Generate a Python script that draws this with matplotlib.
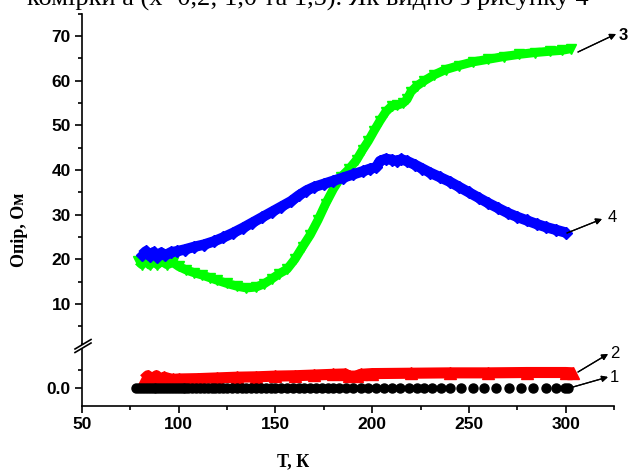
import matplotlib
matplotlib.use("Agg")
import matplotlib.pyplot as plt
from matplotlib.patches import Polygon
from matplotlib.lines import Line2D
from matplotlib.ticker import MultipleLocator, FixedLocator, FormatStrFormatter

# ---- data -------------------------------------------------------------
# sample 1: resistance ~0 over the whole range (black circles)
t1 = [78, 79.5, 81, 82.5, 84, 85.5, 87, 88.5, 90, 91.5, 93, 94.5, 96, 97.5,
      99, 100.5, 102, 103.5, 105, 107, 109, 111, 113, 115, 117, 119, 121,
      123, 125, 127.5, 130, 132.5, 135, 137.5, 140, 142.5, 145, 147.5, 150,
      153, 156, 159, 162, 165, 168, 171, 174, 177, 180, 183, 186.5, 190, 194,
      198, 202, 206, 210, 214.5, 219, 223, 227, 231, 235.5, 240, 246, 252,
      258, 264, 270.5, 277, 283, 290, 295, 299.5, 301]
r1 = [0.0] * len(t1)

# sample 2 (red triangles)
t2 = [82, 84, 86, 88.5, 90, 92.5, 95, 97, 100, 110, 120, 130, 140, 150, 160,
      170, 180, 186, 188, 192, 194, 200, 220, 240, 260, 280, 300, 304]
r2 = [0.12, 0.17, 0.12, 0.17, 0.10, 0.15, 0.13, 0.12, 0.125, 0.13, 0.14,
      0.15, 0.155, 0.165, 0.17, 0.18, 0.19, 0.195, 0.165, 0.165, 0.19, 0.20,
      0.205, 0.21, 0.21, 0.215, 0.215, 0.21]

# sample 3 (green triangles)
t3 = [79, 81, 83, 85, 87, 89, 91, 94, 97, 100, 104, 108, 112, 116, 120, 125,
      130, 135, 140, 144, 148, 152, 156, 160, 164, 168, 172, 176, 180, 184,
      188, 192, 195, 198, 201, 204, 207, 210, 213, 216, 218, 220, 223, 227,
      232, 238, 245, 252, 260, 268, 276, 284, 292, 298, 303]
r3 = [19.6, 18.8, 20.0, 18.7, 19.8, 18.8, 19.6, 18.8, 19.3, 18.4, 17.6, 17.0,
      16.5, 15.9, 15.3, 14.6, 14.0, 13.6, 13.8, 14.5, 15.6, 16.8, 17.8, 20.0,
      22.8, 25.5, 28.8, 32.5, 35.8, 38.5, 40.2, 42.3, 44.5, 46.5, 48.8, 51.0,
      53.0, 54.3, 54.5, 55.0, 55.8, 57.5, 58.8, 60.0, 61.3, 62.5, 63.4, 64.2,
      64.8, 65.4, 65.9, 66.3, 66.6, 66.8, 67.2]

# sample 4 (blue markers)
t4 = [81, 83, 85, 87, 89, 91, 93, 96, 99, 103, 108, 113, 118, 123, 128, 133,
      138, 143, 148, 153, 158, 162, 166, 170, 175, 180, 185, 190, 195, 199,
      202, 204, 207, 210, 213, 215, 218, 222, 226, 230, 235, 240, 245, 250,
      255, 260, 265, 270, 275, 280, 285, 290, 295, 300]
r4 = [21.0, 21.8, 20.8, 21.6, 20.6, 21.5, 20.9, 21.6, 21.8, 22.2, 22.8, 23.3,
      24.0, 24.9, 25.9, 27.0, 28.2, 29.4, 30.6, 31.8, 33.0, 34.3, 35.4, 36.2,
      36.9, 37.6, 38.3, 39.0, 39.7, 40.3, 40.6, 42.0, 42.5, 42.3, 42.0, 42.4,
      42.0, 41.2, 40.3, 39.4, 38.4, 37.4, 36.2, 35.0, 33.8, 32.6, 31.5, 30.4,
      29.5, 28.7, 27.9, 27.2, 26.6, 26.0]

x_ticks = [50, 100, 150, 200, 250, 300]
y_ticks_upper = [10, 20, 30, 40, 50, 60, 70]
y_ticks_lower = [0.0]

# ---- figure -----------------------------------------------------------
W, H = 628, 473
fig = plt.figure(figsize=(W / 100, H / 100), dpi=100)
fig.patch.set_facecolor("white")


def fx(px):
    return px / W


def fy(py):
    return 1 - py / H


left, right = 82, 614
ax_up = fig.add_axes([fx(left), fy(344.2), (right - left) / W, 330.5 / H])
ax_lo = fig.add_axes([fx(left), fy(406), (right - left) / W, 61.8 / H])

tick_font = dict(family="Liberation Sans", weight="bold", size=12.5)

for ax in (ax_up, ax_lo):
    ax.set_xlim(50, 325)
    ax.spines["top"].set_visible(False)
    ax.spines["right"].set_visible(False)
    ax.spines["left"].set_linewidth(1.2)
    ax.spines["bottom"].set_linewidth(1.2)
    ax.patch.set_alpha(0)
    ax.tick_params(which="major", direction="out", length=5, width=1.2, pad=3)
    ax.tick_params(which="minor", direction="out", length=3, width=1.2)
    ax.xaxis.set_major_locator(FixedLocator(x_ticks))
    ax.xaxis.set_minor_locator(MultipleLocator(25))

ax_up.spines["bottom"].set_visible(False)
ax_up.tick_params(axis="x", which="both", bottom=False, labelbottom=False)
ax_up.set_ylim(1, 75)
ax_up.yaxis.set_major_locator(FixedLocator(y_ticks_upper))
ax_up.yaxis.set_minor_locator(FixedLocator([5, 15, 25, 35, 45, 55, 65, 75]))
ax_up.yaxis.set_major_formatter(FormatStrFormatter("%d"))

ax_lo.set_ylim(-0.25, 0.608)
ax_lo.yaxis.set_major_locator(FixedLocator(y_ticks_lower))
ax_lo.yaxis.set_minor_locator(FixedLocator([0.25]))
ax_lo.yaxis.set_major_formatter(FormatStrFormatter("%.1f"))

for ax in (ax_up, ax_lo):
    for lab in ax.get_xticklabels() + ax.get_yticklabels():
        lab.set_fontfamily(tick_font["family"])
        lab.set_fontweight(tick_font["weight"])
        lab.set_fontsize(tick_font["size"])

# ---- series -----------------------------------------------------------
ax_lo.plot(t1, r1, linestyle="none", marker="o", ms=6.5, color="black",
           clip_on=False, zorder=3)
ax_lo.plot(t2, r2, linestyle="-", lw=8.0, marker="^", ms=9.0, color="#ff0000",
           solid_joinstyle="round", solid_capstyle="butt", clip_on=False,
           zorder=2)
ax_up.plot(t3, r3, linestyle="-", lw=6.5, marker="v", ms=7.5, color="#00ff00",
           solid_joinstyle="round", solid_capstyle="butt", zorder=2)
ax_up.plot(t4, r4, linestyle="-", lw=7.5, marker="D", ms=6.5, color="#0000ff",
           solid_joinstyle="round", solid_capstyle="butt", zorder=3)

# ---- axis break on the y spine ---------------------------------------
brk = Polygon([(fx(75), fy(352.5)), (fx(91), fy(343)), (fx(91), fy(339.5)),
               (fx(75), fy(349))], closed=True, transform=fig.transFigure,
              facecolor="white", edgecolor="none", zorder=10)
fig.add_artist(brk)
for dy in (0, 3.5):
    fig.add_artist(Line2D([fx(75), fx(91)], [fy(352.5 - dy), fy(343 - dy)],
                          transform=fig.transFigure, color="black", lw=1.2,
                          zorder=11))

# ---- axis titles ------------------------------------------------------
fig.text(fx(20), fy(230), "Опір, Ом", rotation=90, ha="center", va="center",
         family="Liberation Serif", weight="bold", size=13)
fig.text(fx(293), fy(462), "Т, К", ha="center", va="center",
         family="Liberation Serif", weight="bold", size=13)

# ---- curve numbers with arrows ---------------------------------------
arrows = [
    ("1", (573, 387), (608, 377), (614, 378), "normal"),
    ("2", (578, 372), (608, 354), (615, 353), "normal"),
    ("3", (578, 52), (616, 34), (623, 35), "bold"),
    ("4", (567, 233), (602, 219), (612, 217), "normal"),
]
for name, start, tip, pos, wt in arrows:
    fig.add_artist(plt.annotate(
        "", xy=(fx(tip[0]), fy(tip[1])), xytext=(fx(start[0]), fy(start[1])),
        xycoords="figure fraction", textcoords="figure fraction",
        arrowprops=dict(arrowstyle="-|>", color="black", lw=0.9,
                        mutation_scale=9, shrinkA=0, shrinkB=0)))
    fig.text(fx(pos[0]), fy(pos[1]), name, ha="center", va="center",
             family="Liberation Sans", weight=wt, size=12)

# ---- running text above the figure (clipped by the page edge) --------
fig.text(fx(27), fy(6), "комірки a (х=0,2; 1,0 та 1,5). Як видно з рисунку 4",
         ha="left", va="baseline", family="Liberation Serif", size=19)

fig.savefig("out.png", dpi=100, facecolor="white")
